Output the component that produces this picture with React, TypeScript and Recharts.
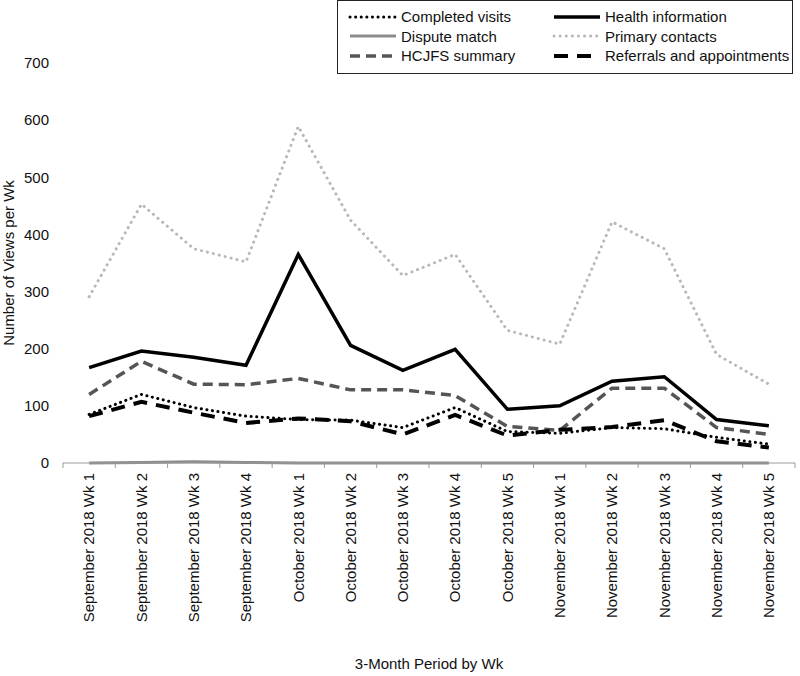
import { LineChart, Line, XAxis, YAxis, Label } from 'recharts';

const FONT = '"Liberation Sans", Arial, sans-serif';
const W = 800;
const H = 676;
const PLOT_LEFT = 63;
const PLOT_RIGHT = 5;
const HALF_BAND = (W - PLOT_LEFT - PLOT_RIGHT) / 14 / 2;

const weeks = [
  'September 2018 Wk 1', 'September 2018 Wk 2', 'September 2018 Wk 3', 'September 2018 Wk 4',
  'October 2018 Wk 1', 'October 2018 Wk 2', 'October 2018 Wk 3', 'October 2018 Wk 4', 'October 2018 Wk 5',
  'November 2018 Wk 1', 'November 2018 Wk 2', 'November 2018 Wk 3', 'November 2018 Wk 4', 'November 2018 Wk 5',
];

const completedVisits = [85, 120, 97, 82, 76, 75, 62, 97, 55, 52, 62, 60, 45, 33];
const disputeMatch    = [0, 1, 2, 1, 0, 0, 0, 0, 0, 0, 0, 0, 0, 0];
const hcjfsSummary    = [120, 178, 138, 137, 148, 128, 128, 118, 64, 57, 131, 131, 62, 50];
const healthInfo      = [167, 196, 185, 171, 365, 206, 162, 199, 94, 100, 143, 151, 76, 65];
const primaryContacts = [291, 453, 375, 352, 589, 425, 328, 365, 232, 208, 422, 375, 190, 138];
const referrals       = [82, 107, 88, 70, 78, 73, 50, 84, 48, 58, 63, 75, 38, 27];
const yTicks = [0, 100, 200, 300, 400, 500, 600, 700];

const data = weeks.map((w, i) => ({
  week: w,
  completed: completedVisits[i],
  dispute: disputeMatch[i],
  hcjfs: hcjfsSummary[i],
  health: healthInfo[i],
  primary: primaryContacts[i],
  referrals: referrals[i],
}));

// legend is column-major, like the source
const SERIES = [
  { key: 'completed', name: 'Completed visits',           stroke: '#000',    width: 3,   dash: '0.1 5.5', cap: 'round' },
  { key: 'dispute',   name: 'Dispute match',              stroke: '#8c8c8c', width: 3,   dash: undefined, cap: 'butt' },
  { key: 'hcjfs',     name: 'HCJFS summary',              stroke: '#555',    width: 3.5, dash: '10 6',    cap: 'butt' },
  { key: 'health',    name: 'Health information',         stroke: '#000',    width: 3.5, dash: undefined, cap: 'butt' },
  { key: 'primary',   name: 'Primary contacts',           stroke: '#b8b8b8', width: 3,   dash: '0.1 6',   cap: 'round' },
  { key: 'referrals', name: 'Referrals and appointments', stroke: '#000',    width: 4,   dash: '14 9',    cap: 'butt' },
];

function WeekTick({ x, y, payload, index }: any) {
  const axisY = y - 10;
  return (
    <g>
      <line x1={x - HALF_BAND} x2={x - HALF_BAND} y1={axisY} y2={axisY + 5} stroke="#9a9a9a" />
      {index === weeks.length - 1 && (
        <line x1={x + HALF_BAND} x2={x + HALF_BAND} y1={axisY} y2={axisY + 5} stroke="#9a9a9a" />
      )}
      <text x={x} y={y} transform={`rotate(-90 ${x} ${y})`} textAnchor="end" dy="0.35em"
            fontFamily={FONT} fontSize={15} fill="#111">
        {payload.value}
      </text>
    </g>
  );
}

function LegendBox() {
  return (
    <div style={{
      position: 'absolute', left: 337, top: 0, width: 456, height: 74, boxSizing: 'border-box',
      border: '1.5px solid #222', background: '#fff',
      display: 'grid', gridTemplateColumns: '204px 240px', gridTemplateRows: 'repeat(3, 19.5px)',
      gridAutoFlow: 'column', padding: '6px 0 0 10px', fontFamily: FONT, fontSize: 15, color: '#111',
    }}>
      {SERIES.map(s => (
        <div key={s.key} style={{ display: 'flex', alignItems: 'center', whiteSpace: 'nowrap' }}>
          <svg width={50} height={12} style={{ marginRight: 3, flex: 'none' }}>
            <line x1={2} x2={48} y1={6} y2={6} stroke={s.stroke} strokeWidth={s.width}
                  strokeDasharray={s.dash} strokeLinecap={s.cap as any} />
          </svg>
          {s.name}
        </div>
      ))}
    </div>
  );
}

export default function App() {
  return (
    <div style={{ position: 'absolute', left: 0, top: 0, width: W, height: H, background: '#fff' }}>
      <LineChart width={W} height={H} data={data}
                 margin={{ top: 63, right: PLOT_RIGHT, left: 0, bottom: 0 }}>
        <XAxis dataKey="week" height={213} interval={0} padding={{ left: HALF_BAND, right: HALF_BAND }}
               axisLine={{ stroke: '#9a9a9a' }} tickLine={false} tickSize={6} tickMargin={4}
               tick={<WeekTick />}>
          <Label value="3-Month Period by Wk" position="insideBottom" offset={7}
                 style={{ fontFamily: FONT, fontSize: 15, fill: '#111' }} />
        </XAxis>
        <YAxis width={PLOT_LEFT} domain={[0, 700]} ticks={yTicks} axisLine={false} tickLine={false}
               tickMargin={8} tick={{ fontFamily: FONT, fontSize: 15, fill: '#111' }}>
          <Label value="Number of Views per Wk" angle={-90} position="insideLeft" offset={9}
                 style={{ fontFamily: FONT, fontSize: 15, fill: '#111', textAnchor: 'middle' }} />
        </YAxis>
        {SERIES.map(s => (
          <Line key={s.key} dataKey={s.key} name={s.name} type="linear" stroke={s.stroke}
                strokeWidth={s.width} strokeDasharray={s.dash} strokeLinecap={s.cap as any}
                dot={false} activeDot={false} isAnimationActive={false} />
        ))}
      </LineChart>
      <LegendBox />
    </div>
  );
}
